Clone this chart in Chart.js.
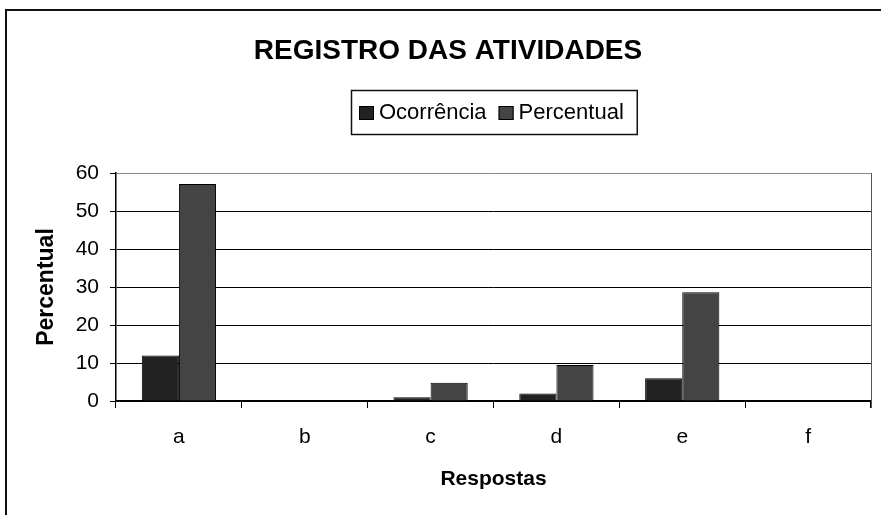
<!DOCTYPE html>
<html><head><meta charset="utf-8">
<script src="https://cdn.jsdelivr.net/npm/chart.js@4/dist/chart.umd.min.js"></script>
<style>html,body{margin:0;padding:0;background:#fff;} #wrap{width:881px;height:515px;position:relative;}</style>
</head><body><div id="wrap"><canvas id="c" width="881" height="515"></canvas></div>
<script>
const categories = ['a', 'b', 'c', 'd', 'e', 'f'];
const ocorrencia = [12, 0, 1, 2, 6, 0];
const percentual = [57.1, 0, 4.8, 9.5, 28.6, 0];
const seriesNames = ['Ocorrência', 'Percentual'];
const seriesColors = ['#222222', '#444444'];
const yMin = 0, yMax = 60, yStep = 10;
const chartTitle = 'REGISTRO DAS ATIVIDADES';
const xTitle = 'Respostas';
const yTitle = 'Percentual';

const FONT = '"Liberation Sans", Arial, sans-serif';

const framePlugin = {
  id: 'frame',
  beforeDraw(chart) {
    const ctx = chart.ctx;
    ctx.save();
    ctx.fillStyle = '#fff';
    ctx.fillRect(0, 0, chart.width, chart.height);
    ctx.strokeStyle = '#111';
    ctx.lineWidth = 2;
    ctx.strokeRect(6, 10, chart.width + 20, chart.height + 20);
    ctx.restore();
  },
  afterDraw(chart) {
    const ctx = chart.ctx;
    const ca = chart.chartArea;
    ctx.save();
    // right border of plot area
    ctx.strokeStyle = '#555';
    ctx.lineWidth = 1;
    ctx.beginPath();
    ctx.moveTo(Math.round(ca.right) + 0.5, ca.top);
    ctx.lineTo(Math.round(ca.right) + 0.5, ca.bottom + 7);
    ctx.stroke();
    // legend
    ctx.font = '22px ' + FONT;
    const box = 15, gap = 5, itemGap = 12, padL = 8, padR = 13;
    const items = chart.data.datasets.map(d => ({ label: d.label, color: d.backgroundColor }));
    const widths = items.map(it => box + gap + ctx.measureText(it.label).width);
    const total = widths.reduce((a, b) => a + b, 0) + itemGap * (items.length - 1) + padL + padR;
    const cx = (ca.left + ca.right) / 2;
    const left = Math.round(cx - total / 2);
    const top = 90, h = 44;
    ctx.strokeStyle = '#111';
    ctx.lineWidth = 1.5;
    ctx.strokeRect(left + 0.5, top + 0.5, total, h);
    let x = left + padL;
    const cy = top + h / 2;
    items.forEach((it, i) => {
      ctx.fillStyle = it.color;
      ctx.fillRect(x, cy - 6, box, 14);
      ctx.strokeStyle = '#000';
      ctx.lineWidth = 1;
      ctx.strokeRect(x + 0.5, cy - 5.5, box - 1, 13);
      ctx.fillStyle = '#000';
      ctx.textBaseline = 'middle';
      ctx.textAlign = 'left';
      ctx.fillText(it.label, x + box + gap, cy + 1);
      x += widths[i] + itemGap;
    });
    ctx.restore();
  }
};

new Chart(document.getElementById('c'), {
  type: 'bar',
  data: {
    labels: categories,
    datasets: [
      { label: seriesNames[0], data: ocorrencia, backgroundColor: seriesColors[0], borderColor: '#000', borderWidth: 1, borderSkipped: 'bottom' },
      { label: seriesNames[1], data: percentual, backgroundColor: seriesColors[1], borderColor: '#000', borderWidth: 1, borderSkipped: 'bottom' }
    ]
  },
  options: {
    responsive: false,
    animation: false,
    layout: { padding: { left: 25, right: 10, top: 0, bottom: 0 } },
    datasets: { bar: { categoryPercentage: 0.59, barPercentage: 1.0 } },
    plugins: {
      legend: { display: false },
      tooltip: { enabled: false },
      title: {
        display: true,
        text: chartTitle,
        color: '#000',
        font: { family: FONT, size: 28, weight: 'bold' },
        padding: { top: 34, bottom: 105.4 }
      }
    },
    scales: {
      x: {
        offset: true,
        grid: { display: true, drawOnChartArea: false, drawTicks: true, tickLength: 7, color: '#000', offset: true },
        border: { display: true, color: '#000', width: 1.5 },
        ticks: { color: '#000', font: { family: FONT, size: 21 }, padding: 17 },
        title: { display: true, text: xTitle, color: '#000', font: { family: FONT, size: 21, weight: 'bold' }, padding: { top: 0, bottom: 23 } },
        afterFit(scale) { scale.height = 114; }
      },
      y: {
        min: yMin, max: yMax,
        grid: {
          color: ctx => (ctx.tick && ctx.tick.value === yMax ? '#888' : '#000'),
          tickColor: '#000',
          lineWidth: 1,
          tickLength: 6
        },
        border: { display: true, color: '#000', width: 1.5 },
        ticks: { stepSize: yStep, color: '#000', font: { family: FONT, size: 21 }, padding: 11 },
        title: { display: true, text: yTitle, color: '#000', font: { family: FONT, size: 23, weight: 'bold' }, padding: { top: 8, bottom: 0 } },
        afterFit(scale) { scale.width = 91; }
      }
    }
  },
  plugins: [framePlugin]
});
</script>
</body></html>
